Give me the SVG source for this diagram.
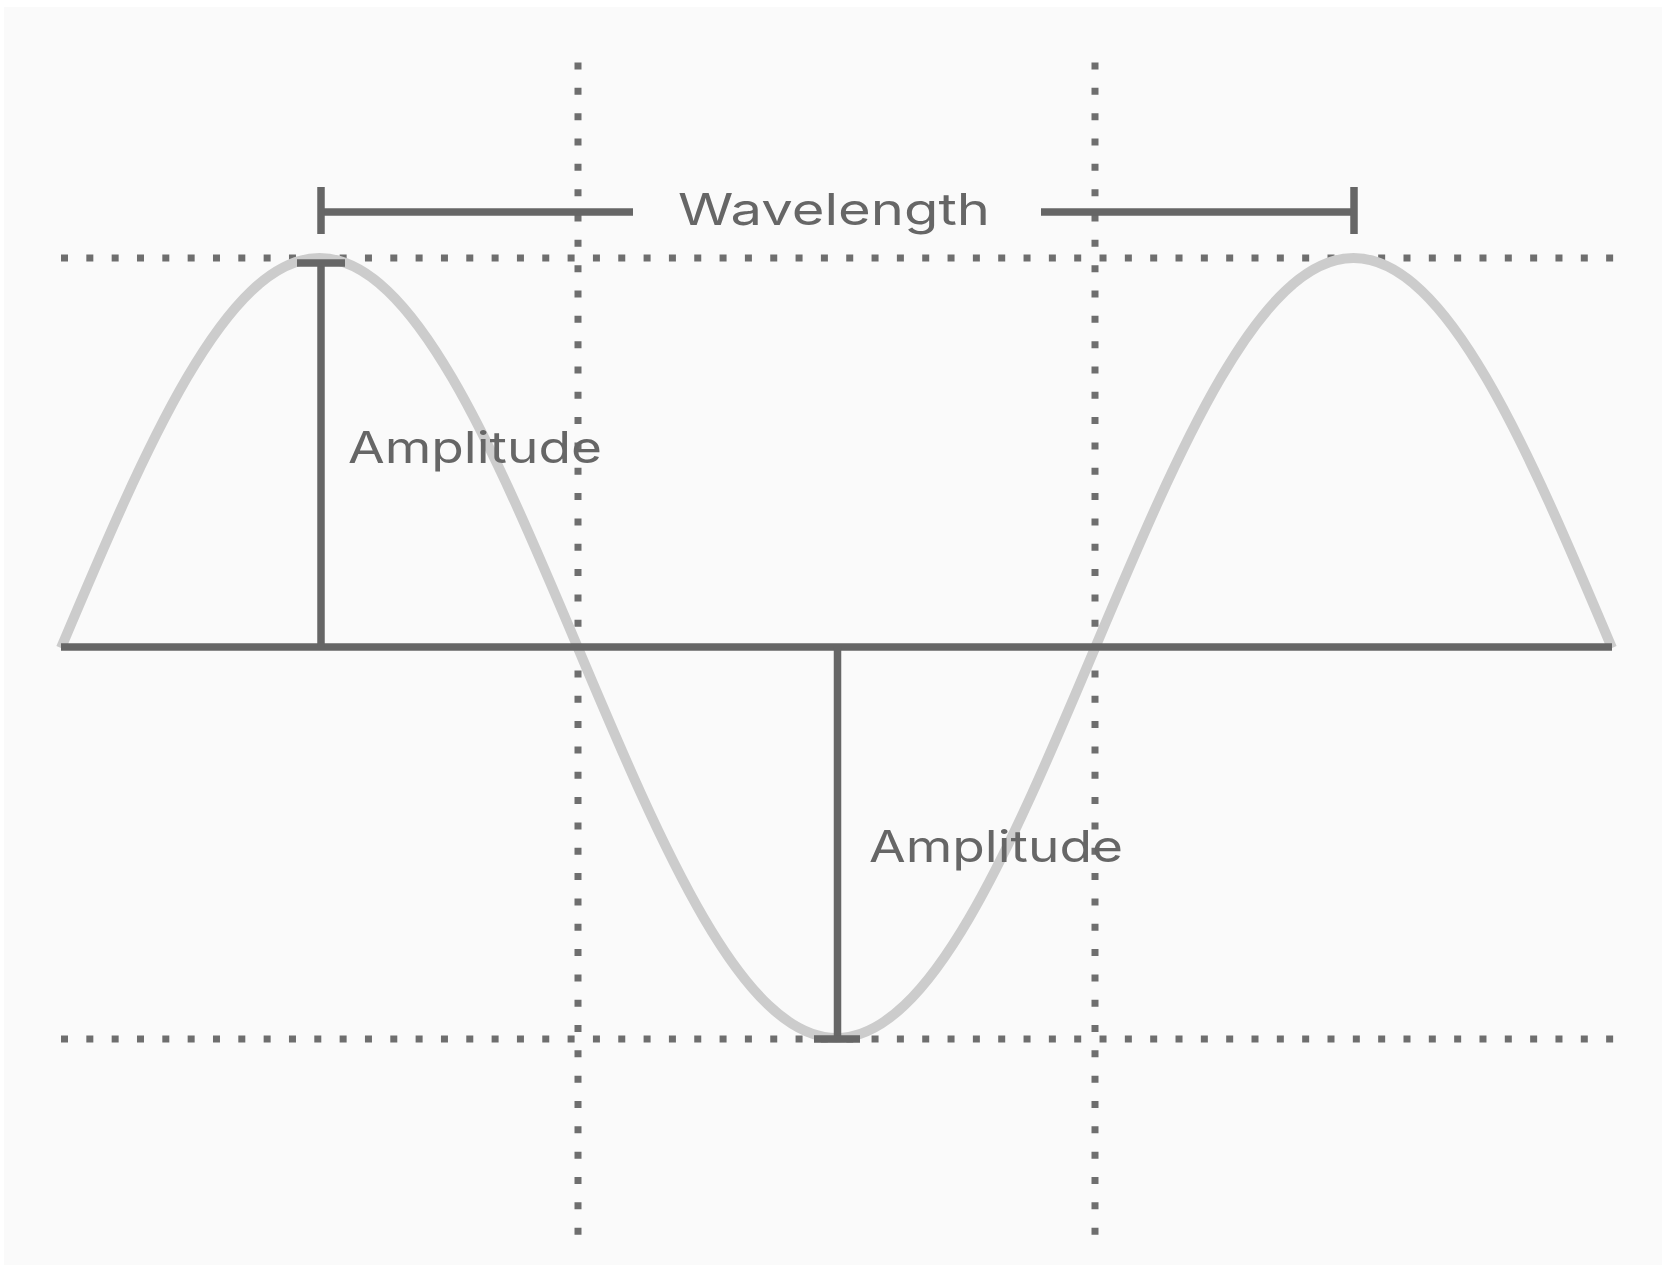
<svg xmlns="http://www.w3.org/2000/svg" width="1666" height="1268" viewBox="0 0 1666 1268">
<style>
.dot{stroke:#6e6e6e;stroke-width:7;stroke-dasharray:7 18.33;fill:none}
.dark{stroke:#666666;stroke-width:7.5;fill:none;stroke-linecap:butt}
.wave{stroke:#cccccc;stroke-width:10;fill:none;stroke-linejoin:round}
.lbl{font-family:Inter,"Liberation Sans",sans-serif;font-size:44px;fill:#666666}
</style>
<rect x="0" y="0" width="1666" height="1268" fill="#ffffff"/>
<rect x="4" y="7" width="1658" height="1258" fill="#fafafa"/>
<g id="grid">
<line class="dot" x1="578" y1="62.5" x2="578" y2="1240"/>
<line class="dot" x1="1095" y1="62.5" x2="1095" y2="1240"/>
<line class="dot" x1="61" y1="258" x2="1614" y2="258"/>
<line class="dot" x1="61" y1="1039" x2="1614" y2="1039"/>
</g>
<g id="wave">
<path class="wave" d="M61,648 C145.3,448.2 225.9,258 319.5,258 C413.1,258 493.7,448.2 578,648 C662.3,847.8 742.9,1038 836.5,1038 C930.1,1038 1010.7,847.8 1095,648 C1179.3,448.2 1259.9,258 1353.5,258 C1447.1,258 1527.7,448.2 1612,648"/>
</g>
<g id="connectors">
<line class="dark" x1="61" y1="647" x2="1612" y2="647"/>
<line class="dark" x1="321" y1="262" x2="321" y2="647"/>
<line class="dark" x1="297" y1="263" x2="345" y2="263"/>
<line class="dark" x1="837.5" y1="647" x2="837.5" y2="1036"/>
<line class="dark" x1="814" y1="1039" x2="860" y2="1039"/>
<line class="dark" x1="321" y1="212" x2="633" y2="212"/>
<line class="dark" x1="321" y1="187" x2="321" y2="234"/>
<line class="dark" x1="1041" y1="212" x2="1354" y2="212"/>
<line class="dark" x1="1354" y1="187" x2="1354" y2="234"/>
</g>
<g id="label-wavelength"><text class="lbl" x="678" y="225" textLength="312" lengthAdjust="spacingAndGlyphs">Wavelength</text></g>
<g id="label-amplitude-1"><text class="lbl" x="348" y="463" textLength="254" lengthAdjust="spacingAndGlyphs">Amplitude</text></g>
<g id="label-amplitude-2"><text class="lbl" x="869" y="862" textLength="254" lengthAdjust="spacingAndGlyphs">Amplitude</text></g>
</svg>
